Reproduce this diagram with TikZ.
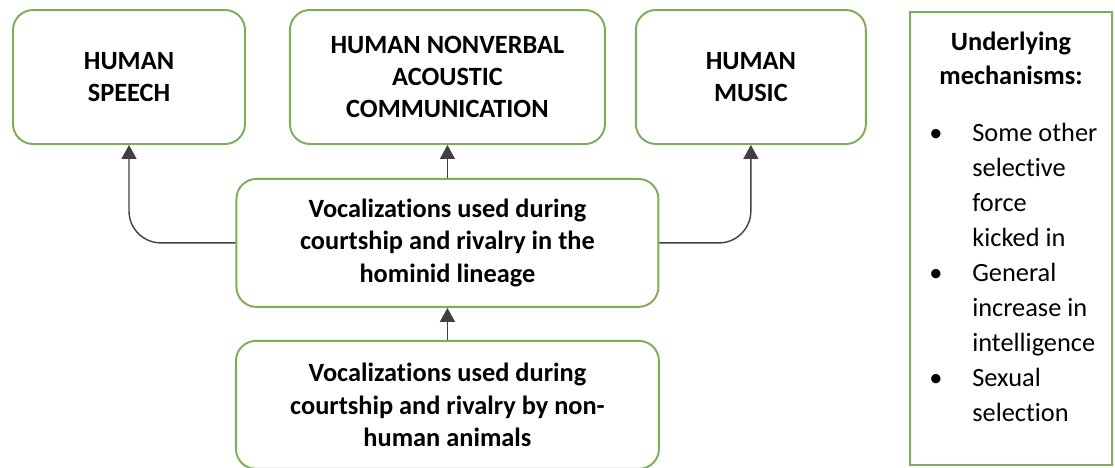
\documentclass[tikz,border=0pt]{standalone}
\usepackage{fontspec}
\setmainfont{Carlito}[Ligatures=NoCommon]
\usepackage{xcolor}
\usepackage{tikz}
\usetikzlibrary{arrows.meta, positioning}

\definecolor{boxgreen}{RGB}{125,172,90}
\definecolor{arrowgray}{RGB}{64,64,64}

\begin{document}
\begin{tikzpicture}[
      box/.style={draw=boxgreen, line width=1.1pt, rounded corners=0.4cm, fill=white,
                  minimum height=2.68cm, align=center,
                  font=\fontsize{15}{18.4}\selectfont\bfseries},
      mechbox/.style={draw=boxgreen, line width=1.1pt,
                  minimum width=4.04cm, minimum height=9.06cm},
      arr/.style={-{Triangle[length=0.28cm, width=0.3cm]}, arrowgray, line width=0.8pt}
    ]
      \useasboundingbox (0,0) rectangle (22.3,-9.36);
      \node[box, minimum width=4.64cm] (speech) at (2.58,-1.54) {HUMAN\\SPEECH};
      \node[box, minimum width=6.3cm, right=0.86cm of speech] (nonverbal) {HUMAN NONVERBAL\\ACOUSTIC\\COMMUNICATION};
      \node[box, minimum width=4.6cm, right=0.58cm of nonverbal] (music) {HUMAN\\MUSIC};
      \node[box, minimum width=8.44cm, minimum height=2.56cm, below=0.66cm of nonverbal] (hominid)
        {Vocalizations used during\\courtship and rivalry in the\\hominid lineage};
      \node[box, minimum width=8.46cm, minimum height=2.56cm, below=0.64cm of hominid] (animals)
        {Vocalizations used during\\courtship and rivalry by non-\\human animals};
      % mechanisms box on the right
      \node[mechbox] (mech) at (20.22,-4.77) {};
      \node[anchor=base, inner sep=0pt, align=center,
            font=\fontsize{15}{18.8}\selectfont\bfseries] (mechhead) at ([yshift=-1.46cm]mech.north)
        {Underlying\\mechanisms:};
      \node[anchor=base west, inner sep=0pt, font=\fontsize{15}{19.9}\selectfont] (mechlist) at (18.58,-2.84)
        {\begin{tabular}[t]{@{}p{0.86cm}@{}l@{}}
          \textbullet & Some other\\
                      & selective\\
                      & force\\
                      & kicked in\\
          \textbullet & General\\
                      & increase in\\
                      & intelligence\\
          \textbullet & Sexual\\
                      & selection
        \end{tabular}};
      \draw[arr] (animals) -- (hominid);
      \draw[arr] (hominid) -- (nonverbal);
      \draw[arr, rounded corners=0.64cm] (hominid.west) -| (speech.south);
      \draw[arr, rounded corners=0.64cm] (hominid.east) -| (music.south);
\end{tikzpicture}
\end{document}
